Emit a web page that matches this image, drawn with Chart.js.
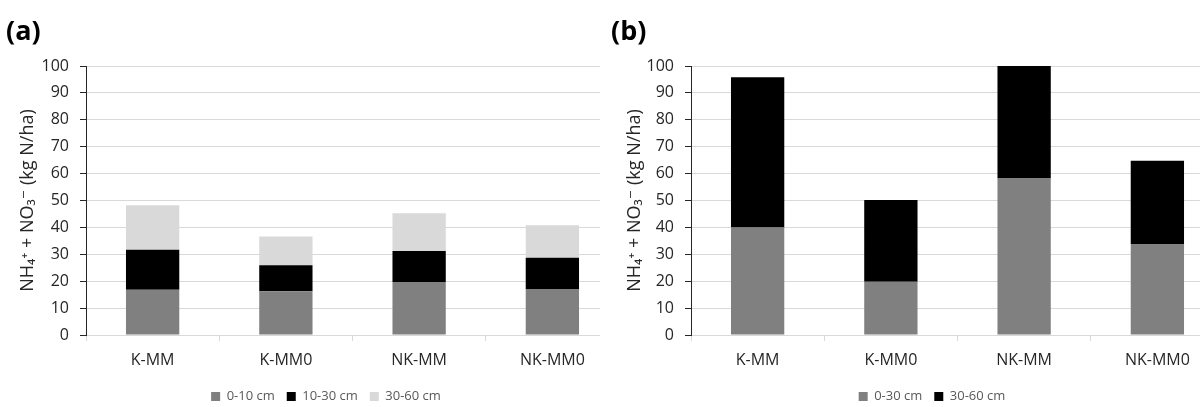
<!DOCTYPE html>
<html>
<head>
<meta charset="utf-8">
<script src="https://cdn.jsdelivr.net/npm/chart.js@4.4.0/dist/chart.umd.min.js"></script>
<style>
  body { margin: 0; background: #fff; width: 1200px; height: 407px; overflow: hidden; position: relative; font-family: "Open Sans", sans-serif; }
  .panel { position: absolute; top: 0; width: 600px; height: 407px; overflow: hidden; }
  .tag { position: absolute; font-weight: bold; font-size: 27px; line-height: 27px; color: #000; }
</style>
</head>
<body>
<div class="panel" style="left:0"><canvas id="chartA" width="652" height="407"></canvas></div>
<div class="panel" style="left:600px"><canvas id="chartB" width="664" height="407"></canvas></div>
<div class="tag" style="left:6px;top:16px">(a)</div>
<div class="tag" style="left:611px;top:16px">(b)</div>
<script>
const categories = ['K-MM', 'K-MM0', 'NK-MM', 'NK-MM0'];

// panel (a): three soil layers
const a_0_10 = [16.8, 16.3, 19.7, 17.1];
const a_10_30 = [14.9, 9.6, 11.5, 11.6];
const a_30_60 = [16.5, 10.7, 14.1, 12.1];

// panel (b): two soil layers
const b_0_30 = [40.0, 19.8, 58.2, 33.8];
const b_30_60 = [55.8, 30.4, 43.0, 31.0];

const yMin = 0, yMax = 100, yStep = 10;
const yTitle = 'NH\u2084\u207A + NO\u2083\u207B (kg N/ha)';

const FONT = "'Open Sans', 'DejaVu Sans', sans-serif";

function bars(label, data, color) {
    return {
        label: label,
        data: data,
        backgroundColor: color,
        borderWidth: 0,
        barPercentage: 0.4,
        categoryPercentage: 1.0
    };
}

function makeChart(id, datasets, axisWidth, rightWidth, titlePad) {
    const ctx = document.getElementById(id).getContext('2d');
    return new Chart(ctx, {
        type: 'bar',
        data: { labels: categories, datasets: datasets },
        options: {
            responsive: false,
            animation: false,
            layout: { padding: { top: 66, bottom: -6, left: 0, right: 0 } },
            plugins: {
                tooltip: { enabled: false },
                legend: {
                    position: 'bottom',
                    labels: {
                        boxWidth: 9,
                        boxHeight: 9,
                        padding: 12,
                        color: '#595959',
                        font: { family: FONT, size: 13 }
                    }
                }
            },
            scales: {
                x: {
                    stacked: true,
                    afterFit: s => { s.height = 43; },
                    grid: { drawOnChartArea: false, tickLength: 6, tickColor: '#d9d9d9', color: '#d9d9d9' },
                    border: { color: '#d9d9d9' },
                    ticks: { color: '#262626', padding: 10, font: { family: FONT, size: 16 } }
                },
                y: {
                    stacked: true,
                    min: yMin,
                    max: yMax,
                    afterFit: s => { s.width = axisWidth; },
                    grid: { color: '#d9d9d9', tickLength: 6, tickColor: '#262626' },
                    border: { color: '#262626' },
                    ticks: { stepSize: yStep, color: '#262626', padding: 11, font: { family: FONT, size: 16 } },
                    title: {
                        display: true,
                        text: yTitle,
                        color: '#262626',
                        padding: { top: titlePad, bottom: 0 },
                        font: { family: FONT, size: 18 }
                    }
                },
                // empty spacer on the right so the legend centres like the original
                y2: {
                    position: 'right',
                    afterFit: s => { s.width = rightWidth; },
                    grid: { display: false },
                    border: { display: false },
                    ticks: { display: false }
                }
            }
        }
    });
}

makeChart('chartA', [
    bars('0-10 cm', a_0_10, '#808080'),
    bars('10-30 cm', a_10_30, '#000000'),
    bars('30-60 cm', a_30_60, '#d9d9d9')
], 86, 33, 17);

makeChart('chartB', [
    bars('0-30 cm', b_0_30, '#808080'),
    bars('30-60 cm', b_30_60, '#000000')
], 91, 40, 24);
</script>
</body>
</html>
